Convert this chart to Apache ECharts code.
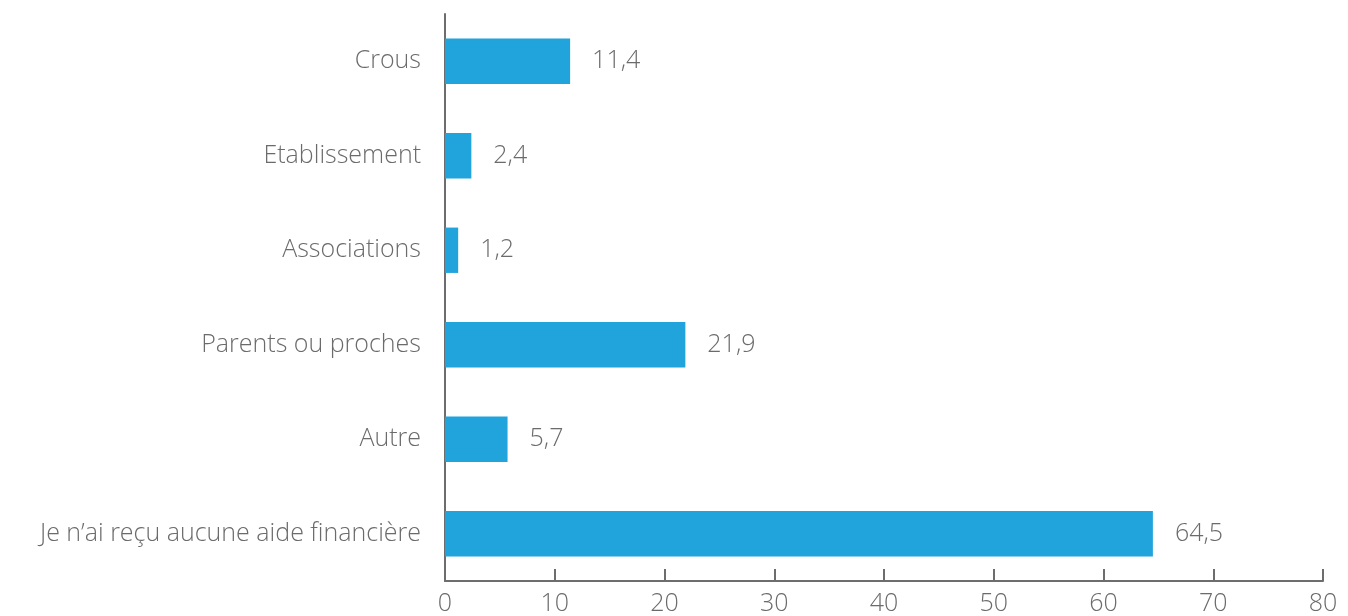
<!DOCTYPE html>
<html><head><meta charset="utf-8">
<script src="https://cdn.jsdelivr.net/npm/echarts@6/dist/echarts.min.js"></script>
<style>html,body{margin:0;padding:0;background:#fff}#c{width:1348px;height:616px}</style>
</head><body><div id="c"></div>
<script>
const categories = ["Crous", "Etablissement", "Associations", "Parents ou proches", "Autre", "Je n’ai reçu aucune aide financière"];
const values = [11.4, 2.4, 1.2, 21.9, 5.7, 64.5];
const xTicks = [0, 10, 20, 30, 40, 50, 60, 70, 80];

const FONT = '"Open Sans", "Lato", sans-serif';
const TXT = '#6b6b6b';
const chart = echarts.init(document.getElementById('c'));
chart.setOption({
  animation: false,
  grid: { left: 445, right: 25, top: 14, bottom: 34, containLabel: false },
  xAxis: {
    type: 'value', min: xTicks[0], max: xTicks[xTicks.length - 1], interval: 10,
    splitLine: { show: false },
    axisLine: { show: true, lineStyle: { color: '#6d6d6d', width: 2 } },
    axisTick: { show: true, inside: true, length: 12, lineStyle: { color: '#6d6d6d', width: 2 } },
    axisLabel: { color: TXT, fontFamily: FONT, fontWeight: 300, fontSize: 25, margin: 10,
      formatter: v => String(v) }
  },
  yAxis: {
    type: 'category', data: categories, inverse: true,
    axisLine: { show: true, lineStyle: { color: '#6d6d6d', width: 2 } },
    axisTick: { show: false },
    axisLabel: { color: TXT, fontFamily: FONT, fontWeight: 300, fontSize: 25, margin: 24 }
  },
  series: [{
    type: 'bar', data: values, barWidth: '48%',
    itemStyle: { color: '#21a3dc' },
    label: { show: true, position: 'right', distance: 22, color: TXT, fontFamily: FONT, fontWeight: 300, fontSize: 25,
      formatter: p => String(p.value).replace('.', ',') }
  }]
});
</script></body></html>
